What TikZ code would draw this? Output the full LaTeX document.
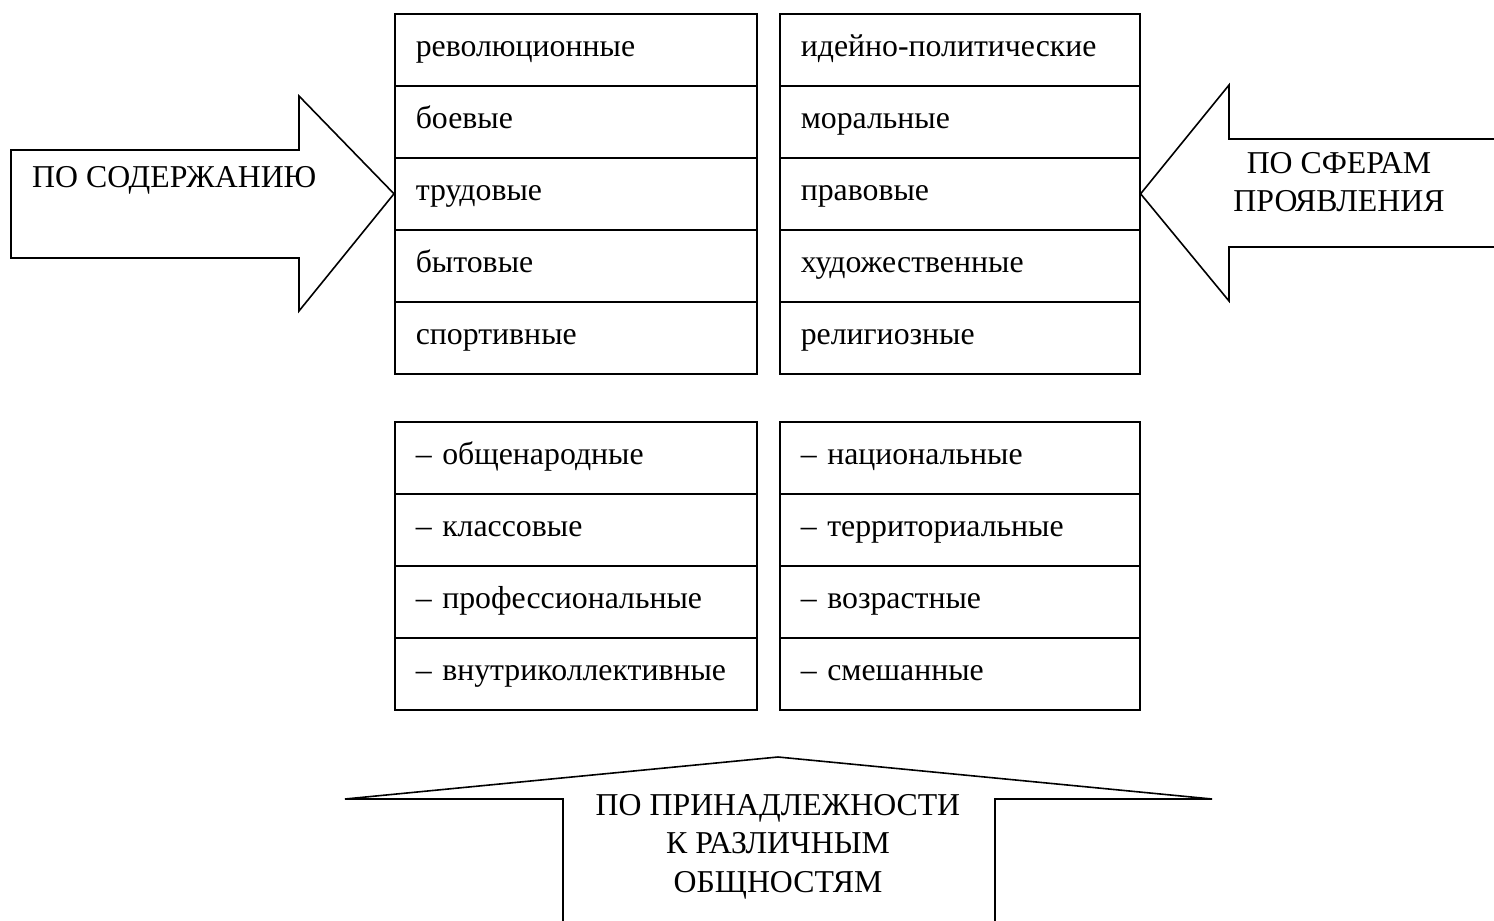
\documentclass[tikz,border=0pt]{standalone}
\usepackage{fontspec}
\setmainfont{Liberation Serif}
\begin{document}
\begin{tikzpicture}[x=1pt,y=-1pt,
  every node/.style={font=\fontsize{31.8}{38.5}\selectfont},
  cell/.style={draw, line width=1.6pt, anchor=north west, minimum height=72pt,
    inner xsep=21pt, inner ysep=0pt, text width=#1, align=left,
    text height=21pt, text depth=7pt},
  cell/.default=320pt,
  shape line/.style={draw, line width=1.6pt, line join=miter},
  label/.style={inner sep=0pt, align=center}]
\useasboundingbox (0,0) rectangle (1494,921);
% top left column
\node[cell] (a1) at (394,13) {революционные};
\node[cell] (a2) at (394,85) {боевые};
\node[cell] (a3) at (394,157) {трудовые};
\node[cell] (a4) at (394,229) {бытовые};
\node[cell] (a5) at (394,301) {спортивные};
% top right column
\node[cell=318pt] (b1) at (779,13) {идейно-политические};
\node[cell=318pt] (b2) at (779,85) {моральные};
\node[cell=318pt] (b3) at (779,157) {правовые};
\node[cell=318pt] (b4) at (779,229) {художественные};
\node[cell=318pt] (b5) at (779,301) {религиозные};
% bottom left column
\node[cell] (c1) at (394,421) {– общенародные};
\node[cell] (c2) at (394,493) {– классовые};
\node[cell] (c3) at (394,565) {– профессиональные};
\node[cell] (c4) at (394,637) {– внутриколлективные};
% bottom right column
\node[cell=318pt] (d1) at (779,421) {– национальные};
\node[cell=318pt] (d2) at (779,493) {– территориальные};
\node[cell=318pt] (d3) at (779,565) {– возрастные};
\node[cell=318pt] (d4) at (779,637) {– смешанные};
% left arrow
\path[shape line] (11,150) -- (299,150) -- (299,96) -- (a3.west) -- (299,311)
  -- (299,258) -- (11,258) -- cycle;
\node[label, anchor=base west] (lt) at (32,187) {ПО СОДЕРЖАНИЮ};
% right arrow
\path[shape line] (1494,139) -- (1229,139) -- (1229,85) -- (b3.east) -- (1229,301)
  -- (1229,247) -- (1494,247);
\node[label, anchor=base] (rt1) at (1339,173) {ПО СФЕРАМ};
\node[label, anchor=base] (rt2) at (1339,211) {ПРОЯВЛЕНИЯ};
% bottom arrow
\path[shape line] (563,921) -- (563,799) -- (345,799) -- (778,757) -- (1212,799)
  -- (995,799) -- (995,921);
\node[label, anchor=base] (bt1) at (778,815) {ПО ПРИНАДЛЕЖНОСТИ};
\node[label, anchor=base] (bt2) at (778,853) {К РАЗЛИЧНЫМ};
\node[label, anchor=base] (bt3) at (778,892) {ОБЩНОСТЯМ};
\end{tikzpicture}
\end{document}
